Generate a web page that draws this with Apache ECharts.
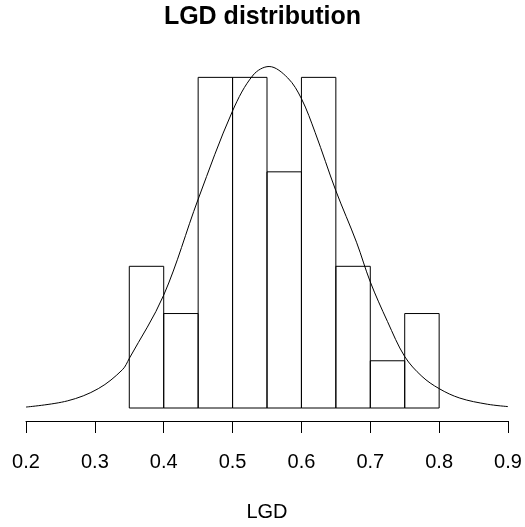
<!DOCTYPE html>
<html>
<head>
<meta charset="utf-8">
<script src="https://cdn.jsdelivr.net/npm/echarts@6/dist/echarts.min.js"></script>
<style>html,body{margin:0;padding:0;background:#fff;}#c{width:525px;height:527px;}</style>
</head>
<body>
<div id="c"></div>
<script>
var binStarts = [0.35, 0.40, 0.45, 0.50, 0.55, 0.60, 0.65, 0.70, 0.75];
var binWidth = 0.05;
var counts = [3, 2, 7, 7, 5, 7, 3, 1, 2];
var curveX = [0.20, 0.26, 0.305, 0.34, 0.35, 0.40, 0.45, 0.50, 0.53, 0.553, 0.58, 0.60, 0.62, 0.65, 0.68, 0.70, 0.725, 0.75, 0.775, 0.80, 0.83, 0.87, 0.90];
var curveY = [0.02, 0.15, 0.41, 0.81, 1.05, 2.39, 4.42, 6.29, 7.05, 7.23, 6.99, 6.55, 5.83, 4.60, 3.51, 2.67, 1.83, 1.09, 0.67, 0.41, 0.21, 0.08, 0.03];
var xTicks = [0.2, 0.3, 0.4, 0.5, 0.6, 0.7, 0.8, 0.9];

var font = '"Liberation Sans", Arial, sans-serif';
var barData = binStarts.map(function (s, i) { return [s, s + binWidth, counts[i]]; });
var curveData = curveX.map(function (x, i) { return [x, curveY[i]]; });

var chart = echarts.init(document.getElementById('c'), null, {renderer: 'canvas'});
chart.setOption({
  animation: false,
  backgroundColor: '#fff',
  title: {
    text: 'LGD distribution', left: 'center', top: 0,
    textStyle: {fontFamily: font, fontSize: 25, fontWeight: 'bold', color: '#000'}
  },
  grid: {left: 26, right: 17, top: 53.75, bottom: 117},
  xAxis: {
    type: 'value', min: 0.2, max: 0.9, interval: 0.1, offset: 13,
    axisLine: {show: true, onZero: false, lineStyle: {color: '#000', width: 1}},
    axisTick: {show: true, length: 12, lineStyle: {color: '#000', width: 1}},
    axisLabel: {
      show: true, margin: 31, color: '#000', fontFamily: font, fontSize: 20,
      formatter: function (v) { var r = Math.round(v * 10) / 10; return xTicks.indexOf(r) >= 0 ? r.toFixed(1) : ''; }
    },
    splitLine: {show: false},
    name: 'LGD', nameLocation: 'middle', nameGap: 81,
    nameTextStyle: {color: '#000', fontFamily: font, fontSize: 20}
  },
  yAxis: {
    type: 'value', min: 0, max: 7.5, show: false
  },
  series: [
    {
      type: 'custom',
      data: barData,
      renderItem: function (params, api) {
        var p0 = api.coord([api.value(0), api.value(2)]);
        var p1 = api.coord([api.value(1), 0]);
        return {
          type: 'rect',
          shape: {x: p0[0], y: p0[1], width: p1[0] - p0[0], height: p1[1] - p0[1]},
          style: {fill: 'rgba(0,0,0,0)', stroke: '#000', lineWidth: 1}
        };
      },
      encode: {x: [0, 1], y: 2}
    },
    {
      type: 'line',
      data: curveData,
      smooth: 0.35,
      showSymbol: false,
      symbol: 'none',
      lineStyle: {color: '#000', width: 1}
    }
  ]
});
</script>
</body>
</html>
